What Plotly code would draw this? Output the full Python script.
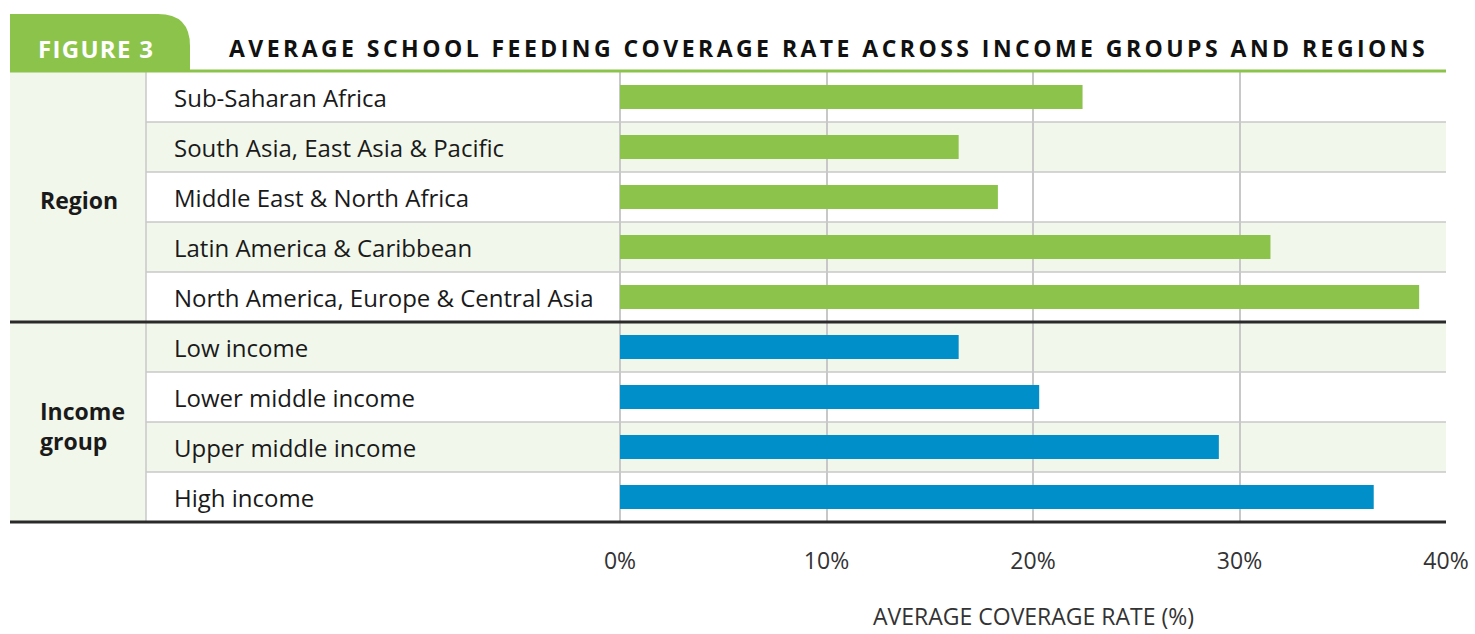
import plotly.graph_objects as go

categories = ["Sub-Saharan Africa", "South Asia, East Asia & Pacific", "Middle East & North Africa",
              "Latin America & Caribbean", "North America, Europe & Central Asia",
              "Low income", "Lower middle income", "Upper middle income", "High income"]
values = [22.4, 16.4, 18.3, 31.5, 38.7, 16.4, 20.3, 29.0, 36.5]
groups = ["Region"] * 5 + ["Income group"] * 4
tick_vals = [0, 10, 20, 30, 40]
tick_text = ["0%", "10%", "20%", "30%", "40%"]

GREEN = "#8CC44B"
BLUE = "#008FC9"
SHADE = "#F1F7EB"
FONT = "Open Sans"

W, H = 1475, 634
L, R, T, B = 620, 1446, 72, 522


def px(x):
    return (x - L) / (R - L)


def py(y):
    return (B - y) / (B - T)


colors = [GREEN if g == "Region" else BLUE for g in groups]

fig = go.Figure()
fig.add_trace(go.Bar(
    x=values, y=categories, orientation="h", marker=dict(color=colors, line=dict(width=0)),
    width=0.48, hoverinfo="x+y"))

shapes = []
# left column shading
shapes.append(dict(type="rect", xref="paper", yref="paper", x0=px(10), x1=px(146), y0=0, y1=1,
                   fillcolor=SHADE, line=dict(width=0), layer="below"))
# row shading
for i, c in enumerate(categories):
    if i in (1, 3, 5, 7):
        shapes.append(dict(type="rect", xref="paper", yref="y", x0=px(146), x1=1, y0=i - 0.5, y1=i + 0.5,
                           fillcolor=SHADE, line=dict(width=0), layer="below"))
# row separators
for i in range(1, len(categories)):
    if i == 5:
        continue
    shapes.append(dict(type="line", xref="paper", yref="y", x0=px(146), x1=1, y0=i - 0.5, y1=i - 0.5,
                       line=dict(color="#C8C8C8", width=1.5), layer="below"))
# vertical separators
shapes.append(dict(type="line", xref="paper", yref="paper", x0=px(146), x1=px(146), y0=0, y1=1,
                   line=dict(color="#C8C8C8", width=1.5), layer="below"))
# thick black separators
shapes.append(dict(type="line", xref="paper", yref="y", x0=px(10), x1=1, y0=4.5, y1=4.5,
                   line=dict(color="#2a2a2a", width=3), layer="above"))
shapes.append(dict(type="line", xref="paper", yref="paper", x0=px(10), x1=1, y0=0, y1=0,
                   line=dict(color="#2a2a2a", width=3), layer="above"))
# header tab
x0, x1, r = px(10), px(190), 32
ytop, ybot = py(14), py(72)
path = (f"M {x0},{ybot} L {x0},{ytop} L {px(190 - r)},{ytop} "
        f"Q {x1},{ytop} {x1},{py(14 + r)} L {x1},{ybot} Z")
shapes.append(dict(type="path", xref="paper", yref="paper", path=path, fillcolor=GREEN,
                   line=dict(width=0), layer="above"))
# green header line
shapes.append(dict(type="line", xref="paper", yref="paper", x0=px(10), x1=1, y0=py(71), y1=py(71),
                   line=dict(color=GREEN, width=3), layer="above"))

annotations = []
for c in categories:
    annotations.append(dict(x=px(172), y=c, xref="paper", yref="y", text=c, showarrow=False,
                            xanchor="left", yanchor="middle", font=dict(family=FONT, size=24, color="#1a1a1a")))
annotations.append(dict(x=px(38), y=2, xref="paper", yref="y", text="<b>Region</b>", showarrow=False,
                        xanchor="left", yanchor="middle", yshift=-3,
                        font=dict(family=FONT, size=23, color="#1a1a1a")))
annotations.append(dict(x=px(38), y=6.5, xref="paper", yref="y", text="<b>Income<br>group</b>", showarrow=False,
                        xanchor="left", yanchor="middle", align="left", yshift=-4,
                        font=dict(family=FONT, size=23, color="#1a1a1a")))
annotations.append(dict(x=px(36), y=py(48), xref="paper", yref="paper", text="<b>FIGURE 3</b>", showarrow=False,
                        xanchor="left", yanchor="middle", font=dict(family=FONT, size=24, color="white")))
annotations.append(dict(x=px(227), y=py(48), xref="paper", yref="paper",
                        text="<b>AVERAGE SCHOOL FEEDING COVERAGE RATE ACROSS INCOME GROUPS AND REGIONS</b>",
                        showarrow=False, xanchor="left", yanchor="middle",
                        font=dict(family=FONT, size=23, color="#111111")))
annotations.append(dict(x=0.5, y=py(616), xref="paper", yref="paper", text="AVERAGE COVERAGE RATE (%)",
                        showarrow=False, xanchor="center", yanchor="middle",
                        font=dict(family=FONT, size=23, color="#333333")))

fig.update_layout(
    width=W, height=H, margin=dict(l=L, r=W - R, t=T, b=H - B, autoexpand=False),
    paper_bgcolor="white", plot_bgcolor="white", showlegend=False,
    shapes=shapes, annotations=annotations, bargap=0.52,
    xaxis=dict(range=[0, 40], tickvals=tick_vals, ticktext=tick_text, showgrid=True, automargin=False,
               gridcolor="#C8C8C8", gridwidth=1.5, zeroline=True, zerolinecolor="#C8C8C8",
               zerolinewidth=1.5, ticks="outside", ticklen=18, tickcolor="rgba(0,0,0,0)",
               tickfont=dict(family=FONT, size=23, color="#333333"), fixedrange=True),
    yaxis=dict(categoryorder="array", categoryarray=categories, range=[8.5, -0.5], automargin=False,
               showticklabels=False, showgrid=False, zeroline=False, fixedrange=True),
)

post = """
document.body.style.margin = '0';
function spread(t, sp) {
  var b0 = t.getBBox();
  t.style.letterSpacing = sp;
  var b1 = t.getBBox();
  t.setAttribute('transform', 'translate(' + (b0.x - b1.x) + ',0)');
}
document.querySelectorAll('.annotation-text').forEach(function(t) {
  var s = t.textContent;
  if (s.indexOf('AVERAGE SCHOOL') === 0) { spread(t, '3.45px'); }
  else if (s.indexOf('FIGURE 3') === 0) { spread(t, '1.3px'); }
});
"""
fig.write_html("out.html", post_script=post, config={"displayModeBar": False})
